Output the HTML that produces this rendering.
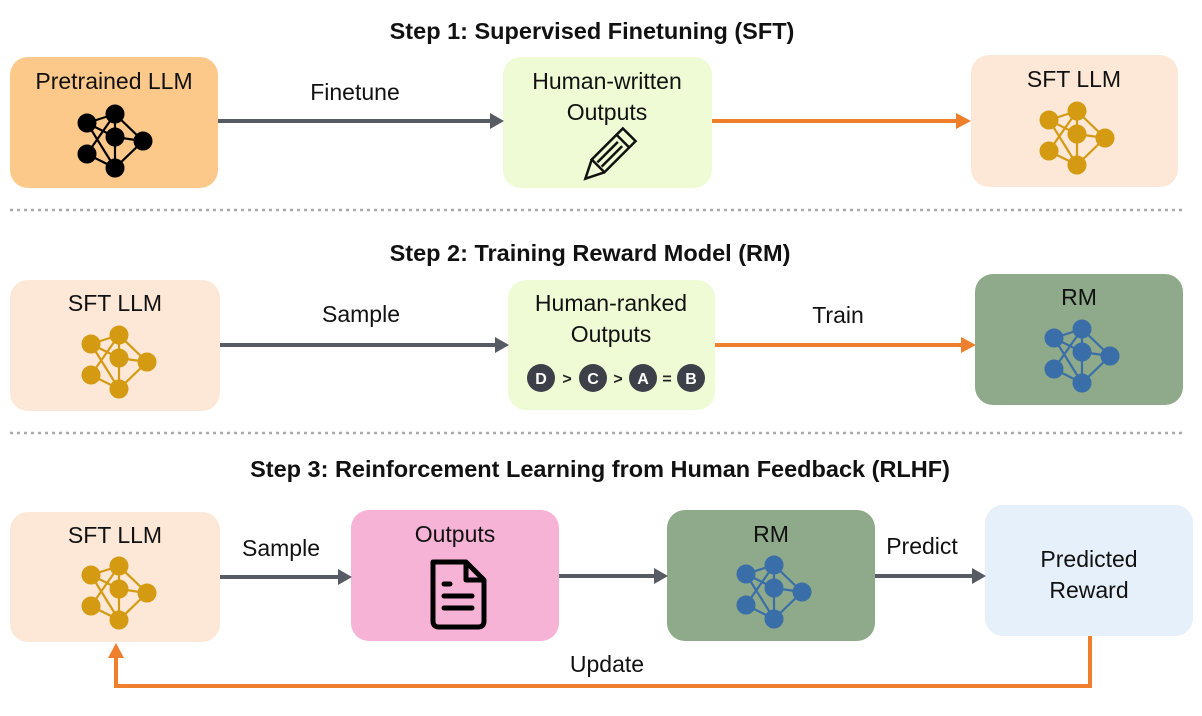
<!DOCTYPE html>
<html><head><meta charset="utf-8"><style>
body{margin:0;background:#fff;}
svg text{font-family:"Liberation Sans",sans-serif;}
</style></head><body>
<svg width="1202" height="711" viewBox="0 0 1202 711" xmlns="http://www.w3.org/2000/svg">
<defs>
<g id="net">
<g stroke-width="2.2">
<line x1="-28" y1="-18" x2="0" y2="-27"/><line x1="-28" y1="-18" x2="0" y2="-4"/>
<line x1="-28" y1="-18" x2="0" y2="27"/><line x1="0" y1="-27" x2="0" y2="-4"/>
<line x1="0" y1="-27" x2="28" y2="0"/><line x1="0" y1="-4" x2="28" y2="0"/>
<line x1="0" y1="-4" x2="0" y2="27"/><line x1="28" y1="0" x2="0" y2="27"/>
<line x1="-28" y1="13" x2="0" y2="-27"/><line x1="-28" y1="13" x2="0" y2="27"/>
</g>
<circle cx="-28" cy="-18" r="9"/><circle cx="0" cy="-27" r="9"/><circle cx="0" cy="-4" r="9"/>
<circle cx="28" cy="0" r="9"/><circle cx="-28" cy="13" r="9"/><circle cx="0" cy="27" r="9"/>
</g>
</defs>
<g font-size="23.5" text-anchor="middle" font-weight="bold" fill="#111">
<text x="592" y="39">Step 1: Supervised Finetuning (SFT)</text>
<text x="590" y="261">Step 2: Training Reward Model (RM)</text>
<text x="600" y="477">Step 3: Reinforcement Learning from Human Feedback (RLHF)</text>
</g>
<g stroke="#aaa" stroke-width="2.5" stroke-dasharray="3,4"><line x1="10" y1="210" x2="1182" y2="210"/><line x1="10" y1="433" x2="1182" y2="433"/></g>
<rect x="10" y="57" width="208" height="131" rx="18" fill="#fdc98b"/>
<rect x="503" y="57" width="209" height="131" rx="18" fill="#effbd5"/>
<rect x="971" y="55" width="207" height="132" rx="18" fill="#fde8d7"/>
<rect x="10" y="280" width="210" height="131" rx="18" fill="#fde8d7"/>
<rect x="508" y="280" width="207" height="130" rx="18" fill="#effbd5"/>
<rect x="975" y="274" width="208" height="131" rx="18" fill="#8faa8a"/>
<rect x="10" y="512" width="210" height="130" rx="18" fill="#fde8d7"/>
<rect x="351" y="510" width="208" height="131" rx="18" fill="#f7b3d6"/>
<rect x="667" y="510" width="208" height="131" rx="18" fill="#8faa8a"/>
<rect x="985" y="505" width="208" height="131" rx="18" fill="#e5f0fa"/>
<g font-size="23" text-anchor="middle" fill="#111">
<text x="114" y="89">Pretrained LLM</text>
<text x="607" y="89">Human-written</text><text x="607" y="120">Outputs</text>
<text x="1074" y="87">SFT LLM</text>
<text x="115" y="311">SFT LLM</text>
<text x="611" y="311">Human-ranked</text><text x="611" y="342">Outputs</text>
<text x="1079" y="305">RM</text>
<text x="115" y="543">SFT LLM</text>
<text x="455" y="542">Outputs</text>
<text x="771" y="542">RM</text>
<text x="1089" y="567">Predicted</text><text x="1089" y="598">Reward</text>
<text x="355" y="100">Finetune</text>
<text x="361" y="322">Sample</text>
<text x="838" y="323">Train</text>
<text x="281" y="556">Sample</text>
<text x="922" y="554">Predict</text>
<text x="607" y="672">Update</text>
</g>
<use href="#net" x="115" y="141" fill="#000" stroke="#000"/>
<use href="#net" x="1077" y="138" fill="#d49a12" stroke="#d49a12"/>
<use href="#net" x="119" y="362" fill="#d49a12" stroke="#d49a12"/>
<use href="#net" x="1082" y="356" fill="#3a6ea8" stroke="#3a6ea8"/>
<use href="#net" x="119" y="593" fill="#d49a12" stroke="#d49a12"/>
<use href="#net" x="774" y="592" fill="#3a6ea8" stroke="#3a6ea8"/>
<g transform="translate(608,156) rotate(45)" fill="none" stroke="#111" stroke-width="2.5">
<rect x="-9" y="-30" width="18" height="44"/><line x1="-9" y1="-21" x2="9" y2="-21"/>
<path d="M-9,14 L0,32 L9,14"/><line x1="-3" y1="-17" x2="-3" y2="12"/><line x1="3" y1="-17" x2="3" y2="12"/>
</g>
<g font-size="16" font-weight="bold" text-anchor="middle">
<circle cx="541" cy="378" r="14" fill="#3d4049"/><text x="541" y="384" fill="#fff">D</text>
<text x="567" y="384" fill="#222">&gt;</text>
<circle cx="593" cy="378" r="14" fill="#3d4049"/><text x="593" y="384" fill="#fff">C</text>
<text x="618" y="384" fill="#222">&gt;</text>
<circle cx="643" cy="378" r="14" fill="#3d4049"/><text x="643" y="384" fill="#fff">A</text>
<text x="667" y="384" fill="#222">=</text>
<circle cx="691" cy="378" r="14" fill="#3d4049"/><text x="691" y="384" fill="#fff">B</text>
</g>
<g fill="none" stroke="#000" stroke-width="5" stroke-linejoin="round" stroke-linecap="round">
<path d="M433,562 L466,562 L484,580 L484,621 Q484,627 478,627 L439,627 Q433,627 433,621 Z"/>
<path d="M466,564 L466,580 L482,580"/>
<line x1="444" y1="584" x2="450" y2="584"/><line x1="444" y1="596" x2="472" y2="596"/><line x1="444" y1="608" x2="472" y2="608"/>
</g>
<g stroke="#575b63" stroke-width="4" fill="none">
<line x1="218" y1="121" x2="494" y2="121"/>
<line x1="220" y1="345" x2="499" y2="345"/>
<line x1="220" y1="577" x2="342" y2="577"/>
<line x1="559" y1="576" x2="658" y2="576"/>
<line x1="875" y1="576" x2="976" y2="576"/>
</g>
<g fill="#575b63">
<path d="M504,121 L490,113 L490,129 z"/><path d="M509,345 L495,337 L495,353 z"/>
<path d="M352,577 L338,569 L338,585 z"/><path d="M668,576 L654,568 L654,584 z"/>
<path d="M986,576 L972,568 L972,584 z"/>
</g>
<g stroke="#ee7f2d" stroke-width="4" fill="none">
<line x1="712" y1="121" x2="958" y2="121"/>
<line x1="715" y1="345" x2="963" y2="345"/>
<path d="M1090,636 L1090,686 L116,686 L116,656"/>
</g>
<g fill="#ee7f2d">
<path d="M971,121 L956,113 L956,129 z"/><path d="M976,345 L961,337 L961,353 z"/>
<path d="M116,643 L108,658 L124,658 z"/>
</g>
</svg>
</body></html>
